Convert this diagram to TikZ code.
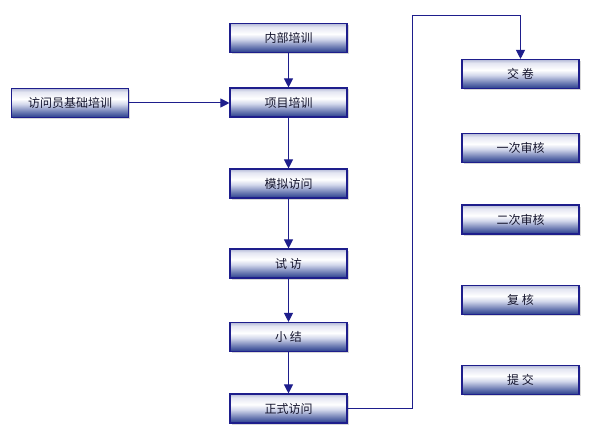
\documentclass[tikz,border=0pt]{standalone}
\usepackage{fontspec}
\newfontfamily\cjk{Noto Sans CJK SC}
\usetikzlibrary{arrows.meta,shadows}
\definecolor{navyline}{RGB}{30,30,140}
\definecolor{shbot}{RGB}{40,60,140}
\definecolor{shlow}{RGB}{110,125,180}
\definecolor{shmid}{RGB}{210,215,235}
\definecolor{shup}{RGB}{228,230,242}
\definecolor{shtop}{RGB}{180,186,215}
\definecolor{txt}{RGB}{20,20,45}
\pgfdeclareverticalshading{boxshade}{100bp}{color(0bp)=(shbot); color(25bp)=(shbot); color(35bp)=(shlow); color(48bp)=(shmid); color(57bp)=(white); color(69bp)=(shup); color(75bp)=(shtop); color(100bp)=(shtop)}
\tikzset{
  flowbox/.style={draw=navyline, line width=1.1pt, shading=boxshade,
    minimum width=117pt, minimum height=29pt, inner sep=0pt,
    font=\cjk\fontsize{12pt}{14pt}\selectfont, text=txt,
    drop shadow={shadow xshift=1.5pt, shadow yshift=-1.5pt, fill=gray!60, opacity=0.5}},
  flowarrow/.style={draw=navyline, line width=1pt, -{Triangle[width=9pt,length=9pt]}},
  flowline/.style={draw=navyline, line width=1pt}
}
\begin{document}
\begin{tikzpicture}[x=1pt,y=-1pt]
\useasboundingbox (0,0) rectangle (590,428);
% left column
\node[flowbox] (nbpx) at (288.5,38) {内部培训};
\node[flowbox] (xmpx) at (288.5,102.5) {项目培训};
\node[flowbox] (mnfw) at (288.5,183.5) {模拟访问};
\node[flowbox] (sf) at (288.5,263.5) {试 访};
\node[flowbox] (xj) at (288.5,337) {小 结};
\node[flowbox] (zsfw) at (288.5,408.5) {正式访问};
% left box
\node[flowbox] (jcpx) at (70,103) {访问员基础培训};
% right column
\node[flowbox] (jj) at (520.5,74) {交 卷};
\node[flowbox] (yc) at (520.5,148) {一次审核};
\node[flowbox] (ec) at (520.5,219.5) {二次审核};
\node[flowbox] (fh) at (520.5,300) {复 核};
\node[flowbox] (tj) at (520.5,380) {提 交};
% connectors
\draw[flowarrow] (nbpx) -- (xmpx);
\draw[flowarrow] (jcpx.east) -- (xmpx.west |- jcpx.east);
\draw[flowarrow] (xmpx) -- (mnfw);
\draw[flowarrow] (mnfw) -- (sf);
\draw[flowarrow] (sf) -- (xj);
\draw[flowarrow] (xj) -- (zsfw);
\coordinate (c1) at (412,408.5);
\coordinate (c2) at (412,16);
\coordinate (c3) at (520.5,16);
\draw[flowarrow] (zsfw.east) -- (c1) -- (c2) -- (c3) -- (jj.north);
\end{tikzpicture}
\end{document}
